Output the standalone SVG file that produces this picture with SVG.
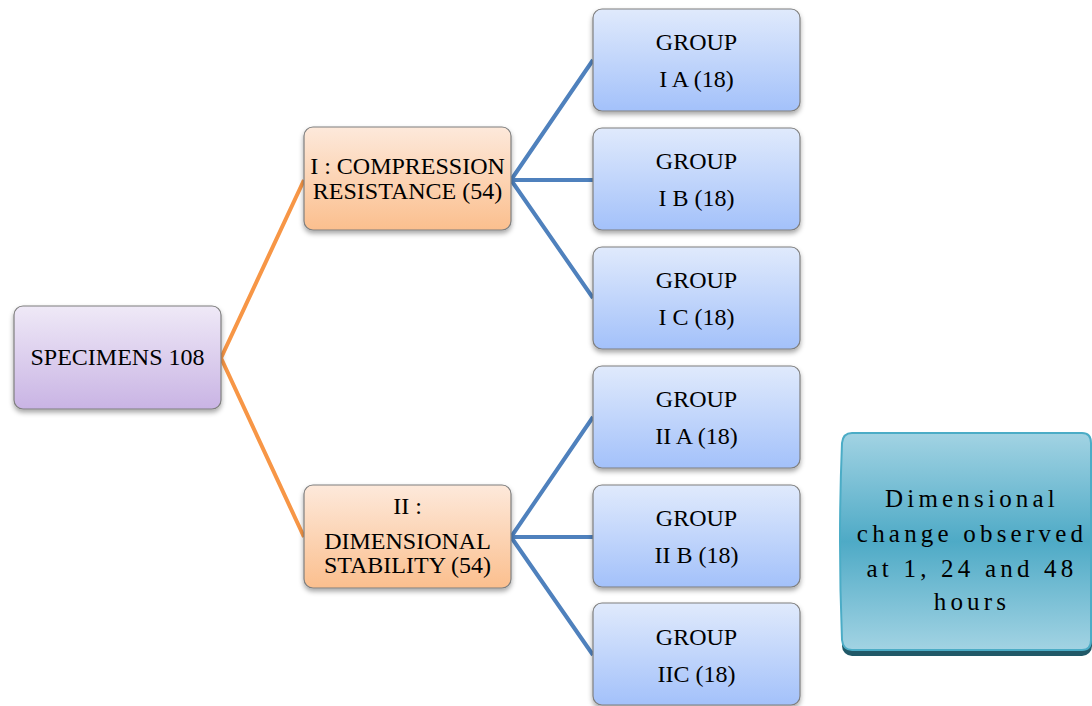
<svg xmlns="http://www.w3.org/2000/svg" width="1092" height="706" viewBox="0 0 1092 706">
<defs>
<linearGradient id="gPurple" x1="0" y1="0" x2="0" y2="1"><stop offset="0" stop-color="#efe9f7"/><stop offset="1" stop-color="#c9b4e4"/></linearGradient>
<linearGradient id="gOrange" x1="0" y1="0" x2="0" y2="1"><stop offset="0" stop-color="#fde9db"/><stop offset="1" stop-color="#fbbf8e"/></linearGradient>
<linearGradient id="gBlue" x1="0" y1="0" x2="0" y2="1"><stop offset="0" stop-color="#e0eafc"/><stop offset="1" stop-color="#a3c1fa"/></linearGradient>
<linearGradient id="gTeal" x1="0" y1="0" x2="0" y2="1"><stop offset="0" stop-color="#a2d3e3"/><stop offset="0.5" stop-color="#4eaac6"/><stop offset="1" stop-color="#a2d3e3"/></linearGradient>
<filter id="sh" x="-10%" y="-10%" width="120%" height="130%"><feDropShadow dx="0" dy="3" stdDeviation="2.5" flood-color="#000" flood-opacity="0.35"/></filter>
</defs>
<style>
.box{stroke:#7f7f7f;stroke-width:1.2;filter:url(#sh)}
text{font-family:'Liberation Serif','Times New Roman',serif;fill:#000;text-anchor:middle}
.t{font-size:24px}
.tt{font-size:25px;letter-spacing:4.2px}
.co{stroke:#f79646;stroke-width:4;fill:none}
.cb{stroke:#4f81bd;stroke-width:4;fill:none}
</style>
<g id="connectors">
<path class="co" d="M221 358 L304 180 M221 358 L304 537"/>
<path class="cb" d="M511 180 L593 60 M511 180 L593 180 M511 180 L593 298 M511 537 L593 417 M511 537 L593 537 M511 537 L593 655"/>
</g>
<g id="specimens"><rect class="box" x="14" y="306" width="207" height="103" rx="9" fill="url(#gPurple)"/><text class="t" x="117.5" y="365">SPECIMENS 108</text></g>
<g id="compression"><rect class="box" x="304" y="127" width="207" height="103" rx="9" fill="url(#gOrange)"/><text class="t" x="407.5" y="174">I : COMPRESSION</text><text class="t" x="407.5" y="199">RESISTANCE (54)</text></g>
<g id="dimensional"><rect class="box" x="304" y="485" width="207" height="103" rx="9" fill="url(#gOrange)"/><text class="t" x="407.5" y="514">II :</text><text class="t" x="407.5" y="549">DIMENSIONAL</text><text class="t" x="407.5" y="573">STABILITY (54)</text></g>
<g id="groupIA"><rect class="box" x="593" y="9" width="207" height="102" rx="9" fill="url(#gBlue)"/><text class="t" x="696.5" y="50">GROUP</text><text class="t" x="696.5" y="87">I A (18)</text></g>
<g id="groupIB"><rect class="box" x="593" y="128" width="207" height="102" rx="9" fill="url(#gBlue)"/><text class="t" x="696.5" y="169">GROUP</text><text class="t" x="696.5" y="206">I B (18)</text></g>
<g id="groupIC"><rect class="box" x="593" y="247" width="207" height="102" rx="9" fill="url(#gBlue)"/><text class="t" x="696.5" y="288">GROUP</text><text class="t" x="696.5" y="325">I C (18)</text></g>
<g id="groupIIA"><rect class="box" x="593" y="366" width="207" height="102" rx="9" fill="url(#gBlue)"/><text class="t" x="696.5" y="407">GROUP</text><text class="t" x="696.5" y="444">II A (18)</text></g>
<g id="groupIIB"><rect class="box" x="593" y="485" width="207" height="102" rx="9" fill="url(#gBlue)"/><text class="t" x="696.5" y="526">GROUP</text><text class="t" x="696.5" y="563">II B (18)</text></g>
<g id="groupIIC"><rect class="box" x="593" y="603" width="207" height="102" rx="9" fill="url(#gBlue)"/><text class="t" x="696.5" y="645">GROUP</text><text class="t" x="696.5" y="682">IIC (18)</text></g>
<g id="note">
<rect x="842" y="438" width="250" height="218" rx="10" fill="#215968"/>
<path d="M852 433 H1082 Q1091 433 1091 443 V640 Q1091 650 1082 650 H852 Q843 650 842 640 Q838 540 842 443 Q843 433 852 433 Z" fill="url(#gTeal)" stroke="#4bacc6" stroke-width="2"/>
<text class="tt" x="972" y="507">Dimensional</text><text class="tt" x="972" y="542">change observed</text><text class="tt" x="972" y="577">at 1, 24 and 48</text><text class="tt" x="972" y="610">hours</text>
</g>
</svg>
